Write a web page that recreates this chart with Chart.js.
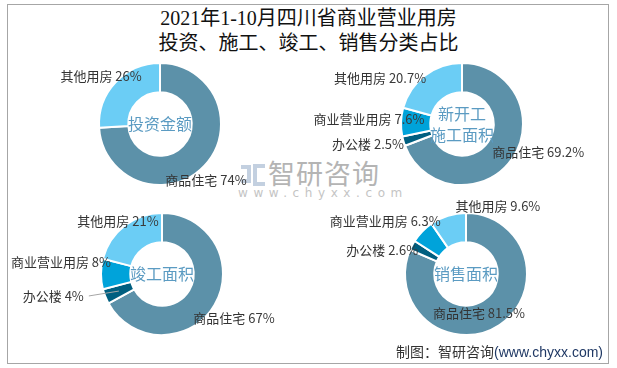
<!DOCTYPE html>
<html>
<head>
<meta charset="utf-8">
<script src="https://cdn.jsdelivr.net/npm/chart.js@4.4.0/dist/chart.umd.min.js"></script>
<style>
body{margin:0;background:#fff;}
#wrap{position:relative;width:617px;height:368px;overflow:hidden;font-family:"Noto Sans CJK SC",sans-serif;}
#frame{position:absolute;left:7px;top:4px;width:602px;height:360px;border:1px solid #a6a6a6;box-sizing:border-box;}
.title{position:absolute;left:0;width:617px;text-align:center;font-family:"Liberation Serif","Noto Sans CJK SC",serif;font-size:20px;color:#111;line-height:24px;}
canvas{position:absolute;left:0;top:0;pointer-events:none;}
#wm{position:absolute;left:268px;top:156px;font-size:27px;color:#b4b4b4;line-height:34px;letter-spacing:1px;}
#wmurl{position:absolute;left:238px;top:186px;font-size:12px;color:#c4c4c4;letter-spacing:5.6px;font-family:"DejaVu Sans",sans-serif;}
.ico{position:absolute;border:4px solid #c3d0e0;}
#foot{position:absolute;right:14px;top:341px;font-size:14px;color:#333;line-height:20px;}
#foot span{color:#1f3864;font-family:"Liberation Sans","Noto Sans CJK SC",sans-serif;}
</style>
</head>
<body>
<div id="wrap">
  <div id="frame"></div>
  <div class="title" style="top:6px">2021年1-10月四川省商业营业用房</div>
  <div class="title" style="top:31px">投资、施工、竣工、销售分类占比</div>
  <div class="ico" style="left:241px;top:165px;width:6px;height:10px;border-left:none;"></div>
  <div class="ico" style="left:253px;top:164px;width:8px;height:14px;border-right:none;"></div>
  <div id="wm">智研咨询</div>
  <div id="wmurl">www.chyxx.com</div>
  <canvas id="c1" width="617" height="368"></canvas>
  <canvas id="c2" width="617" height="368"></canvas>
  <canvas id="c3" width="617" height="368"></canvas>
  <canvas id="c4" width="617" height="368"></canvas>
  <div id="foot">制图：智研咨询<span>(www.chyxx.com)</span></div>
</div>
<script>
// 分类与占比(%)
const investCats = ['商品住宅', '其他用房'];
const investVals = [74, 26];
const typeCats = ['商品住宅', '办公楼', '商业营业用房', '其他用房'];
const startVals = [69.2, 2.5, 7.6, 20.7];
const doneVals = [67, 4, 8, 21];
const saleVals = [81.5, 2.6, 6.3, 9.6];

const catColors = {
    '商品住宅': '#5c91a9',
    '办公楼': '#005f80',
    '商业营业用房': '#00a3da',
    '其他用房': '#6bcdf5'
};

const W = 617, H = 368, R = 61;

// 标签与中心文字
const labelPlugin = {
    id: 'outLabels',
    afterDatasetsDraw(chart, args, opts) {
        const ctx = chart.ctx;
        const meta = chart.getDatasetMeta(0);
        const ds = chart.data.datasets[0];
        ctx.save();
        ctx.font = '13px "Noto Sans CJK SC"';
        ctx.textBaseline = 'middle';
        ctx.textAlign = 'left';
        let cx = 0, cy = 0;
        meta.data.forEach((arc, i) => {
            const p = arc.getProps(['x', 'y', 'startAngle', 'endAngle', 'outerRadius', 'innerRadius'], true);
            cx = p.x; cy = p.y;
            const mid = (p.startAngle + p.endAngle) / 2;
            const nd = opts.nudge[i] || [0, 0];
            const tx = p.x + Math.cos(mid) * p.outerRadius + nd[0];
            const ty = p.y + Math.sin(mid) * p.outerRadius + nd[1];
            const name = chart.data.labels[i] + ' ';
            const pct = ds.data[i] + '%';
            const w1 = ctx.measureText(name).width;
            const w2 = ctx.measureText(pct).width;
            const left = tx - (w1 + w2) / 2;
            ctx.fillStyle = '#333';
            ctx.fillText(name, left, ty);
            ctx.fillStyle = '#3a3a3a';
            ctx.fillText(pct, left + w1, ty);
            if (opts.leader && opts.leader[i]) {
                const rm = (p.outerRadius + p.innerRadius) / 2;
                ctx.strokeStyle = '#a6a6a6';
                ctx.lineWidth = 1;
                ctx.beginPath();
                ctx.moveTo(left + w1 + w2 + 5, ty);
                ctx.lineTo(p.x + Math.cos(mid) * rm, p.y + Math.sin(mid) * rm);
                ctx.stroke();
            }
        });
        ctx.font = '16px "Noto Sans CJK SC"';
        ctx.fillStyle = '#5b9bc2';
        ctx.textAlign = 'center';
        const lines = opts.center;
        const lh = 21;
        lines.forEach((t, k) => {
            ctx.fillText(t, cx, cy + (k - (lines.length - 1) / 2) * lh);
        });
        ctx.restore();
    }
};

function makeDonut(id, cats, vals, cx, cy, center, nudge, leader) {
    const canvas = document.getElementById(id);
    const ctx = canvas.getContext('2d');
    const half = R + 1;
    return new Chart(ctx, {
        type: 'doughnut',
        data: {
            labels: cats,
            datasets: [{
                data: vals,
                backgroundColor: cats.map(c => catColors[c]),
                borderColor: '#fff',
                borderWidth: 2,
                hoverBorderWidth: 2,
                hoverOffset: 0
            }]
        },
        options: {
            responsive: false,
            animation: false,
            cutout: '52%',
            layout: {
                padding: {left: cx - half, top: cy - half, right: W - cx - half, bottom: H - cy - half}
            },
            plugins: {
                legend: {display: false},
                tooltip: {enabled: false},
                outLabels: {center: center, nudge: nudge, leader: leader}
            }
        },
        plugins: [labelPlugin]
    });
}

makeDonut('c1', investCats, investVals, 160, 124, ['投资金额'],
    [[1.5, 14], [-14.5, -6]]);
makeDonut('c2', typeCats, startVals, 462, 124, ['新开工', '施工面积'],
    [[26, -7], [-35.5, 3], [-32, -3], [-45, 2.5]]);
makeDonut('c3', typeCats, doneVals, 162, 274, ['竣工面积'],
    [[19.5, 13], [-52, -0.5], [-40, -12], [-6.6, -4.8]], [false, true, false, false]);
makeDonut('c4', typeCats, saleVals, 466, 274, ['销售面积'],
    [[-20.5, -12], [-30, 4.7], [-37, -10.5], [50, -10]]);
</script>
</body>
</html>
